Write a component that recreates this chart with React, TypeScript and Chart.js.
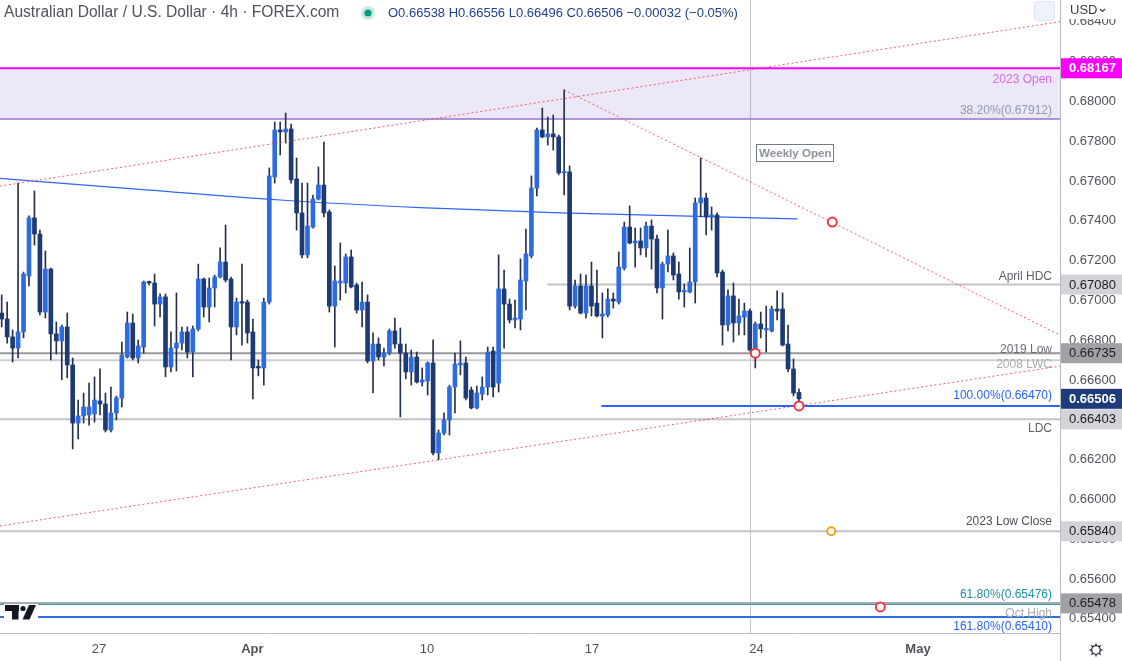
import React, { useEffect, useRef } from 'react';
import { Chart, registerables } from 'chart.js';

Chart.register(...registerables);

const FONT = '"Liberation Sans", Arial, Helvetica, sans-serif';

// ---------------- DATA (4h candles, index 0 = first visible bar) ----------------
const opens = [
  0.66937, 0.66907, 0.66817, 0.66761, 0.66842, 0.67123, 0.67415, 0.67334, 0.66942, 0.67158,
  0.66832, 0.66797, 0.66867, 0.66676, 0.66384, 0.66420, 0.66425, 0.66430, 0.66495, 0.66480,
  0.66349, 0.66435, 0.66510, 0.66716, 0.66887, 0.66711, 0.66766, 0.67093, 0.67088, 0.66982,
  0.67018, 0.66666, 0.66761, 0.66786, 0.66842, 0.66741, 0.66857, 0.67108, 0.66967, 0.67063,
  0.67118, 0.67193, 0.67108, 0.66867, 0.66992, 0.66992, 0.66842, 0.66666, 0.66661, 0.66992,
  0.67621, 0.67857, 0.67847, 0.67862, 0.67611, 0.67440, 0.67229, 0.67369, 0.67510, 0.67580,
  0.67445, 0.66972, 0.67088, 0.67088, 0.67219, 0.67078, 0.66952, 0.66992, 0.66696, 0.66781,
  0.66716, 0.66736, 0.66847, 0.66781, 0.66736, 0.66641, 0.66716, 0.66590, 0.66596, 0.66686,
  0.66234, 0.66334, 0.66400, 0.66565, 0.66676, 0.66686, 0.66550, 0.66460, 0.66530, 0.66565,
  0.66746, 0.66585, 0.67058, 0.66982, 0.66902, 0.66907, 0.67098, 0.67224, 0.67565, 0.67857,
  0.67822, 0.67837, 0.67822, 0.67641, 0.67646, 0.66972, 0.67073, 0.66937, 0.67073, 0.66987,
  0.66922, 0.66927, 0.67007, 0.66992, 0.67163, 0.67369, 0.67289, 0.67299, 0.67264, 0.67374,
  0.67309, 0.67063, 0.67183, 0.67224, 0.67133, 0.67043, 0.67043, 0.67093, 0.67490, 0.67515,
  0.67420, 0.67430, 0.67143, 0.66877, 0.67023, 0.66887, 0.66917, 0.66947, 0.66751, 0.66882,
  0.66852, 0.66847, 0.66957, 0.66957, 0.66781, 0.66656, 0.66538,
];
const highs = [
  0.67028, 0.66992, 0.66852, 0.67590, 0.67143, 0.67425, 0.67550, 0.67354, 0.67249, 0.67163,
  0.66892, 0.66877, 0.66937, 0.66711, 0.66500, 0.66535, 0.66585, 0.66616, 0.66656, 0.66535,
  0.66565, 0.66520, 0.66791, 0.66942, 0.66932, 0.66802, 0.67098, 0.67098, 0.67133, 0.67033,
  0.67033, 0.66842, 0.67038, 0.66867, 0.66867, 0.66872, 0.67183, 0.67113, 0.67113, 0.67128,
  0.67264, 0.67379, 0.67118, 0.67012, 0.67183, 0.67002, 0.66907, 0.66701, 0.67012, 0.67666,
  0.67897, 0.67897, 0.67942, 0.67887, 0.67716, 0.67590, 0.67590, 0.67530, 0.67671, 0.67796,
  0.67455, 0.67173, 0.67289, 0.67234, 0.67254, 0.67088, 0.67093, 0.67028, 0.66837, 0.66812,
  0.66761, 0.66857, 0.66912, 0.66862, 0.66781, 0.66751, 0.66741, 0.66661, 0.66691, 0.66802,
  0.66349, 0.66435, 0.66575, 0.66736, 0.66797, 0.66716, 0.66565, 0.66570, 0.66616, 0.66766,
  0.66766, 0.67229, 0.67153, 0.67007, 0.67002, 0.67209, 0.67359, 0.67626, 0.67867, 0.67967,
  0.67922, 0.67932, 0.67832, 0.68058, 0.67676, 0.67103, 0.67133, 0.67128, 0.67193, 0.67153,
  0.67038, 0.67058, 0.67038, 0.67244, 0.67394, 0.67475, 0.67364, 0.67364, 0.67394, 0.67405,
  0.67329, 0.67193, 0.67354, 0.67239, 0.67193, 0.67083, 0.67264, 0.67515, 0.67716, 0.67540,
  0.67470, 0.67440, 0.67153, 0.67053, 0.67088, 0.67007, 0.66987, 0.66957, 0.66892, 0.66942,
  0.66972, 0.66972, 0.67048, 0.67038, 0.66877, 0.66706, 0.66556,
];
const lows = [
  0.66867, 0.66786, 0.66691, 0.66711, 0.66812, 0.67073, 0.67279, 0.66927, 0.66912, 0.66701,
  0.66731, 0.66601, 0.66611, 0.66254, 0.66304, 0.66384, 0.66374, 0.66389, 0.66425, 0.66339,
  0.66339, 0.66400, 0.66465, 0.66711, 0.66701, 0.66686, 0.66736, 0.67078, 0.66872, 0.66917,
  0.66616, 0.66641, 0.66646, 0.66751, 0.66711, 0.66616, 0.66847, 0.66917, 0.66892, 0.66967,
  0.67113, 0.67093, 0.66701, 0.66827, 0.66776, 0.66786, 0.66505, 0.66621, 0.66575, 0.66982,
  0.67590, 0.67731, 0.67791, 0.67590, 0.67354, 0.67214, 0.67214, 0.67364, 0.67505, 0.67420,
  0.66942, 0.66766, 0.67002, 0.67038, 0.67063, 0.66937, 0.66867, 0.66686, 0.66535, 0.66701,
  0.66671, 0.66726, 0.66761, 0.66415, 0.66606, 0.66575, 0.66585, 0.66570, 0.66525, 0.66224,
  0.66199, 0.66324, 0.66324, 0.66435, 0.66626, 0.66500, 0.66455, 0.66455, 0.66500, 0.66525,
  0.66515, 0.66540, 0.66761, 0.66887, 0.66862, 0.66852, 0.66952, 0.67214, 0.67525, 0.67817,
  0.67781, 0.67756, 0.67631, 0.67530, 0.66952, 0.66962, 0.66932, 0.66912, 0.66922, 0.66917,
  0.66812, 0.66917, 0.66962, 0.66982, 0.67153, 0.67284, 0.67168, 0.67229, 0.67219, 0.67158,
  0.67038, 0.66907, 0.67143, 0.67103, 0.67007, 0.66967, 0.67038, 0.66987, 0.67420, 0.67329,
  0.67354, 0.67118, 0.66776, 0.66847, 0.66791, 0.66827, 0.66827, 0.66746, 0.66661, 0.66812,
  0.66741, 0.66842, 0.66902, 0.66771, 0.66641, 0.66520, 0.66496,
];
const closes = [
  0.66907, 0.66817, 0.66761, 0.66842, 0.67133, 0.67415, 0.67334, 0.66942, 0.67158, 0.66832,
  0.66797, 0.66867, 0.66676, 0.66384, 0.66420, 0.66465, 0.66465, 0.66500, 0.66480, 0.66349,
  0.66435, 0.66510, 0.66726, 0.66887, 0.66711, 0.66771, 0.67093, 0.67088, 0.66982, 0.67018,
  0.66666, 0.66761, 0.66786, 0.66842, 0.66741, 0.66857, 0.67108, 0.66967, 0.67063, 0.67118,
  0.67193, 0.67103, 0.66867, 0.66992, 0.66987, 0.66837, 0.66661, 0.66661, 0.66992, 0.67626,
  0.67857, 0.67847, 0.67862, 0.67606, 0.67440, 0.67229, 0.67374, 0.67510, 0.67580, 0.67440,
  0.66972, 0.67098, 0.67098, 0.67219, 0.67068, 0.66952, 0.66992, 0.66696, 0.66781, 0.66716,
  0.66736, 0.66847, 0.66781, 0.66736, 0.66641, 0.66716, 0.66590, 0.66601, 0.66686, 0.66234,
  0.66334, 0.66400, 0.66565, 0.66681, 0.66686, 0.66510, 0.66460, 0.66535, 0.66565, 0.66741,
  0.66565, 0.67058, 0.66982, 0.66902, 0.66912, 0.67103, 0.67234, 0.67565, 0.67857, 0.67822,
  0.67837, 0.67822, 0.67641, 0.67646, 0.66972, 0.67073, 0.66937, 0.67073, 0.66972, 0.66922,
  0.66932, 0.67007, 0.66997, 0.67168, 0.67369, 0.67289, 0.67299, 0.67264, 0.67374, 0.67309,
  0.67063, 0.67183, 0.67224, 0.67128, 0.67043, 0.67048, 0.67093, 0.67490, 0.67515, 0.67420,
  0.67430, 0.67138, 0.66877, 0.67023, 0.66887, 0.66922, 0.66947, 0.66751, 0.66882, 0.66857,
  0.66857, 0.66957, 0.66947, 0.66776, 0.66656, 0.66535, 0.66506,
];

// time axis (bar index) ticks
const xTickIndex = [17.8, 45.9, 77.9, 108.1, 138.2, 167.8];
const xTickLabels = ['27', 'Apr', '10', '17', '24', 'May'];
const monthLabels = ['Apr', 'May'];

// price axis ticks
const priceTicks = [
  0.654, 0.656, 0.658, 0.66, 0.662, 0.664, 0.666, 0.668,
  0.67, 0.672, 0.674, 0.676, 0.678, 0.68, 0.682, 0.684,
];

const X_MIN = -0.31;
const X_MAX = 193.8;
const Y_MIN = 0.653291;
const Y_MAX = 0.6851;

// horizontal levels
const levelLabels = [
  '2023 Open', '38.20%(0.67912)', 'April HDC', '2019 Low', '2008 LWC',
  '100.00%(0.66470)', 'LDC', '2023 Low Close', 'Oct High', '61.80%(0.65476)', '161.80%(0.65410)',
];
const levelPrices = [
  0.68167, 0.67912, 0.6708, 0.66735, 0.667, 0.6647, 0.66403, 0.6584, 0.65478, 0.65476, 0.6541,
];
const levelStart = [X_MIN, X_MIN, 99.9, X_MIN, X_MIN, 109.8, X_MIN, X_MIN, X_MIN, X_MIN, X_MIN];

// moving average (blue)
const maIndex = [-0.31, 25.3, 51, 76.6, 102.3, 124.2, 145.7];
const maValues = [0.67614, 0.67558, 0.67505, 0.67467, 0.6744, 0.67425, 0.6741];

// trend lines
const upperTrendIndex = [-0.31, 193.8];
const upperTrendValues = [0.67575, 0.68401];
const lowerTrendIndex = [-0.31, 193.8];
const lowerTrendValues = [0.65867, 0.6667];
const fallTrendIndex = [103, 193.8];
const fallTrendValues = [0.68058, 0.66826];

// markers
const redMarkIndex = [138, 146, 152.1, 160.9];
const redMarkValues = [0.66735, 0.6647, 0.67394, 0.6546];
const orangeMarkIndex = [151.9];
const orangeMarkValues = [0.6584];

const weeklyOpenIndex = 137;
const weeklyOpenBoxIndex = 138.1;
const weeklyOpenBoxPrice = 0.67785;

// price tags on axis
const tagPrices = [0.68167, 0.6708, 0.66735, 0.66506, 0.66403, 0.6584, 0.65478];

const titleText = 'Australian Dollar / U.S. Dollar · 4h · FOREX.com';
const lastValues = ['O0.66538', 'H0.66556', 'L0.66496', 'C0.66506', '−0.00032', '(−0.05%)'];

// ---------------- STYLES ----------------
const UP = '#2c6be0';
const DOWN = '#1d3a74';
const WICK = '#25304a';
const ZONE_FILL = 'rgba(120, 90, 200, 0.14)';
const levelColors = ['#ff00ff', '#9575cd', '#c2c3c7', '#96989d', '#cfd0d4', '#2962ff', '#c2c3c7', '#c2c3c7', '#a6a8ad', '#1f8fa6', '#2f6fe0'];
const levelWidths = [2, 1.5, 2, 2, 2, 2, 2, 2, 2, 2.5, 2];
const levelTextColors = ['#d56be8', '#8d9bb0', '#5d6068', '#6a6d75', '#a9abb0', '#2962ff', '#5d6068', '#4d5058', '#a9abb0', '#1f8fa6', '#2962ff'];
const levelTextOffsets = [14.3, -5.4, -4.3, -0.5, 7.4, -6.7, 13, -6.5, 13.4, -5.4, 13.4];
const tagBg = ['#ff00ff', '#d1d3d8', '#9fa1a6', '#1e3b7a', '#d1d3d8', '#d1d3d8', '#9fa1a6'];
const tagFg = ['#ffffff', '#1e1e1e', '#1e1e1e', '#ffffff', '#1e1e1e', '#1e1e1e', '#1e1e1e'];
const tagBold = [true, false, false, true, false, false, false];

const decorPlugin = {
  id: 'tvDecor',
  beforeDatasetsDraw(chart: any) {
    const { ctx, chartArea: ca, scales } = chart;
    const px = Math.round(scales.x.getPixelForValue(weeklyOpenIndex)) + 0.5;
    ctx.save();
    ctx.strokeStyle = '#c6c7cb';
    ctx.lineWidth = 1;
    ctx.beginPath();
    ctx.moveTo(px, ca.top);
    ctx.lineTo(px, ca.bottom);
    ctx.stroke();
    ctx.restore();
  },
  afterDraw(chart: any) {
    const { ctx, chartArea: ca, scales } = chart;
    const xs = scales.x;
    const ys = scales.y;
    const W = chart.width;
    const H = chart.height;
    ctx.save();

    // level labels
    ctx.font = `12px ${FONT}`;
    ctx.textAlign = 'right';
    ctx.textBaseline = 'alphabetic';
    levelLabels.forEach((t, k) => {
      ctx.fillStyle = levelTextColors[k];
      ctx.fillText(t, ca.right - 8, ys.getPixelForValue(levelPrices[k]) + levelTextOffsets[k]);
    });

    // weekly open box
    const bx = Math.round(xs.getPixelForValue(weeklyOpenBoxIndex));
    const by = Math.round(ys.getPixelForValue(weeklyOpenBoxPrice));
    ctx.fillStyle = '#ffffff';
    ctx.fillRect(bx, by, 78, 18);
    ctx.strokeStyle = '#6f7c8a';
    ctx.lineWidth = 1;
    ctx.strokeRect(bx + 0.5, by + 0.5, 77, 17);
    ctx.fillStyle = '#8d9199';
    ctx.font = `bold 11.6px ${FONT}`;
    ctx.textAlign = 'left';
    ctx.textBaseline = 'middle';
    ctx.fillText('Weekly Open', bx + 3, by + 9.5);

    // axis border through time axis
    ctx.strokeStyle = '#b9bcc4';
    ctx.beginPath();
    ctx.moveTo(ca.right + 0.5, ca.bottom);
    ctx.lineTo(ca.right + 0.5, H);
    ctx.stroke();

    // price tags
    tagPrices.forEach((p, k) => {
      const ty = ys.getPixelForValue(p);
      ctx.fillStyle = tagBg[k];
      ctx.fillRect(ca.right + 1, ty - 10, W - ca.right - 1, 20);
      ctx.fillStyle = tagFg[k];
      ctx.font = `${tagBold[k] ? 'bold ' : ''}13px ${FONT}`;
      ctx.textAlign = 'left';
      ctx.textBaseline = 'middle';
      ctx.fillText(p.toFixed(5), ca.right + 9, ty + 0.5);
    });

    // top-right currency box
    ctx.fillStyle = '#ffffff';
    ctx.fillRect(ca.right + 1, 0, W - ca.right - 1, 19);
    ctx.fillStyle = '#3a3d45';
    ctx.font = `13px ${FONT}`;
    ctx.textAlign = 'left';
    ctx.textBaseline = 'middle';
    ctx.fillText('USD', ca.right + 10, 10);
    ctx.strokeStyle = '#3a3d45';
    ctx.lineWidth = 1.2;
    ctx.beginPath();
    ctx.moveTo(ca.right + 40, 9);
    ctx.lineTo(ca.right + 42.5, 11.5);
    ctx.lineTo(ca.right + 45, 9);
    ctx.stroke();

    // faded square button
    ctx.fillStyle = '#eef2fa';
    ctx.strokeStyle = '#dde3f0';
    ctx.lineWidth = 1;
    ctx.beginPath();
    ctx.roundRect(ca.right - 25.5, 1.5, 20, 19, 3);
    ctx.fill();
    ctx.stroke();

    // header
    ctx.font = `15.6px ${FONT}`;
    ctx.fillStyle = '#50535e';
    ctx.textAlign = 'left';
    ctx.textBaseline = 'middle';
    ctx.fillText(titleText, 4, 13);
    ctx.fillStyle = 'rgba(8,153,129,0.22)';
    ctx.beginPath();
    ctx.arc(368, 13, 7, 0, Math.PI * 2);
    ctx.fill();
    ctx.fillStyle = '#089981';
    ctx.beginPath();
    ctx.arc(368, 13, 3.6, 0, Math.PI * 2);
    ctx.fill();
    ctx.font = `13px ${FONT}`;
    ctx.fillStyle = '#23418a';
    ctx.fillText(lastValues.join(' '), 388, 13);

    // TradingView logo
    ctx.fillStyle = '#ffffff';
    ctx.fillRect(4, 604, 34, 18);
    ctx.fillStyle = '#131722';
    ctx.fillRect(5, 605, 14, 6);
    ctx.fillRect(12, 605, 6.5, 14.5);
    ctx.beginPath();
    ctx.arc(23, 608.5, 2.6, 0, Math.PI * 2);
    ctx.fill();
    ctx.beginPath();
    ctx.moveTo(29, 605);
    ctx.lineTo(36, 605);
    ctx.lineTo(29.5, 619.5);
    ctx.lineTo(22.5, 619.5);
    ctx.closePath();
    ctx.fill();

    // settings gear
    const gx = 1096;
    const gy = 650;
    ctx.strokeStyle = '#2a2e39';
    ctx.lineWidth = 1.3;
    ctx.beginPath();
    ctx.arc(gx, gy, 4.3, 0, Math.PI * 2);
    ctx.stroke();
    for (let a = 0; a < 8; a++) {
      const ang = (a * Math.PI) / 4;
      ctx.beginPath();
      ctx.moveTo(gx + Math.cos(ang) * 4.3, gy + Math.sin(ang) * 4.3);
      ctx.lineTo(gx + Math.cos(ang) * 6.6, gy + Math.sin(ang) * 6.6);
      ctx.stroke();
    }

    ctx.restore();
  },
};

export default function App() {
  const canvasRef = useRef<HTMLCanvasElement | null>(null);

  useEffect(() => {
    const canvas = canvasRef.current;
    if (!canvas) return;

    const levelSets = levelPrices.map((p, k) => ({
      type: 'line',
      data: [
        { x: levelStart[k], y: p },
        { x: X_MAX, y: p },
      ],
      borderColor: levelColors[k],
      borderWidth: levelWidths[k],
      pointRadius: 0,
      fill: k === 1 ? '-1' : false,
      backgroundColor: k === 1 ? ZONE_FILL : 'transparent',
      order: k < 2 ? 9 : 8,
    }));

    const trend = (ix: number[], vals: number[]) => ({
      type: 'line',
      data: ix.map((x, i) => ({ x, y: vals[i] })),
      borderColor: 'rgba(242,54,69,0.8)',
      borderWidth: 1,
      borderDash: [2, 2.5],
      pointRadius: 0,
      fill: false,
      order: 2,
    });

    const chart = new Chart(canvas, {
      type: 'bar',
      data: {
        datasets: [
          ...levelSets,
          {
            type: 'line',
            data: maIndex.map((x, i) => ({ x, y: maValues[i] })),
            borderColor: '#2f66f5',
            borderWidth: 1.2,
            pointRadius: 0,
            cubicInterpolationMode: 'monotone',
            fill: false,
            order: 6,
          },
          {
            type: 'bar',
            data: opens.map((_o, i) => ({ x: i, y: [lows[i], highs[i]] })),
            backgroundColor: WICK,
            barThickness: 1,
            grouped: false,
            borderWidth: 0,
            minBarLength: 1,
            order: 5,
          },
          {
            type: 'bar',
            data: opens.map((o, i) => ({ x: i, y: [o, closes[i]] })),
            backgroundColor: opens.map((o, i) => (closes[i] >= o ? UP : DOWN)),
            barThickness: 4,
            grouped: false,
            borderWidth: 0,
            minBarLength: 1.5,
            order: 4,
          },
          trend(upperTrendIndex, upperTrendValues),
          trend(lowerTrendIndex, lowerTrendValues),
          trend(fallTrendIndex, fallTrendValues),
          {
            type: 'line',
            data: redMarkIndex.map((x, i) => ({ x, y: redMarkValues[i] })),
            showLine: false,
            pointRadius: 4.5,
            pointBorderWidth: 2,
            pointBorderColor: '#f23645',
            pointBackgroundColor: '#ffffff',
            order: 1,
          },
          {
            type: 'line',
            data: orangeMarkIndex.map((x, i) => ({ x, y: orangeMarkValues[i] })),
            showLine: false,
            pointRadius: 4,
            pointBorderWidth: 2,
            pointBorderColor: '#f7a21b',
            pointBackgroundColor: '#ffffff',
            order: 1,
          },
        ] as any,
      },
      options: {
        responsive: false,
        devicePixelRatio: 1,
        animation: false,
        events: [],
        layout: { padding: 0, autoPadding: false },
        plugins: {
          legend: { display: false },
          tooltip: { enabled: false },
        },
        scales: {
          x: {
            type: 'linear',
            min: X_MIN,
            max: X_MAX,
            offset: false,
            afterFit: (s: any) => {
              s.height = 28;
              s.paddingLeft = 0;
              s.paddingRight = 0;
              s.paddingTop = 0;
              s.paddingBottom = 0;
            },
            afterBuildTicks: (s: any) => {
              s.ticks = xTickIndex.map((v) => ({ value: v }));
            },
            grid: { display: false, drawTicks: false, offset: false },
            border: { display: true, color: '#b9bcc4', width: 1 },
            ticks: {
              autoSkip: false,
              maxRotation: 0,
              padding: 9,
              color: '#4f5259',
              font: (c: any) => ({
                family: FONT,
                size: 13,
                weight: monthLabels.includes(xTickLabels[c.index]) ? 'bold' : 'normal',
              }),
              callback: (_v: any, i: number) => xTickLabels[i],
            },
          },
          y: {
            type: 'linear',
            position: 'right',
            min: Y_MIN,
            max: Y_MAX,
            afterFit: (s: any) => {
              s.width = 62;
              s.paddingLeft = 0;
              s.paddingRight = 0;
              s.paddingTop = 0;
              s.paddingBottom = 0;
            },
            afterBuildTicks: (s: any) => {
              s.ticks = priceTicks.map((v) => ({ value: v }));
            },
            grid: { display: false, drawTicks: false },
            border: { display: true, color: '#b9bcc4', width: 1 },
            ticks: {
              padding: 9,
              color: '#4f5259',
              font: { family: FONT, size: 13 },
              callback: (v: any) => Number(v).toFixed(5),
            },
          },
        },
      } as any,
      plugins: [decorPlugin],
    });

    return () => chart.destroy();
  }, []);

  return (
    <div style={{ position: 'fixed', left: 0, top: 0, width: 1122, height: 661, background: '#ffffff' }}>
      <canvas ref={canvasRef} width={1122} height={661} style={{ display: 'block' }} />
    </div>
  );
}
